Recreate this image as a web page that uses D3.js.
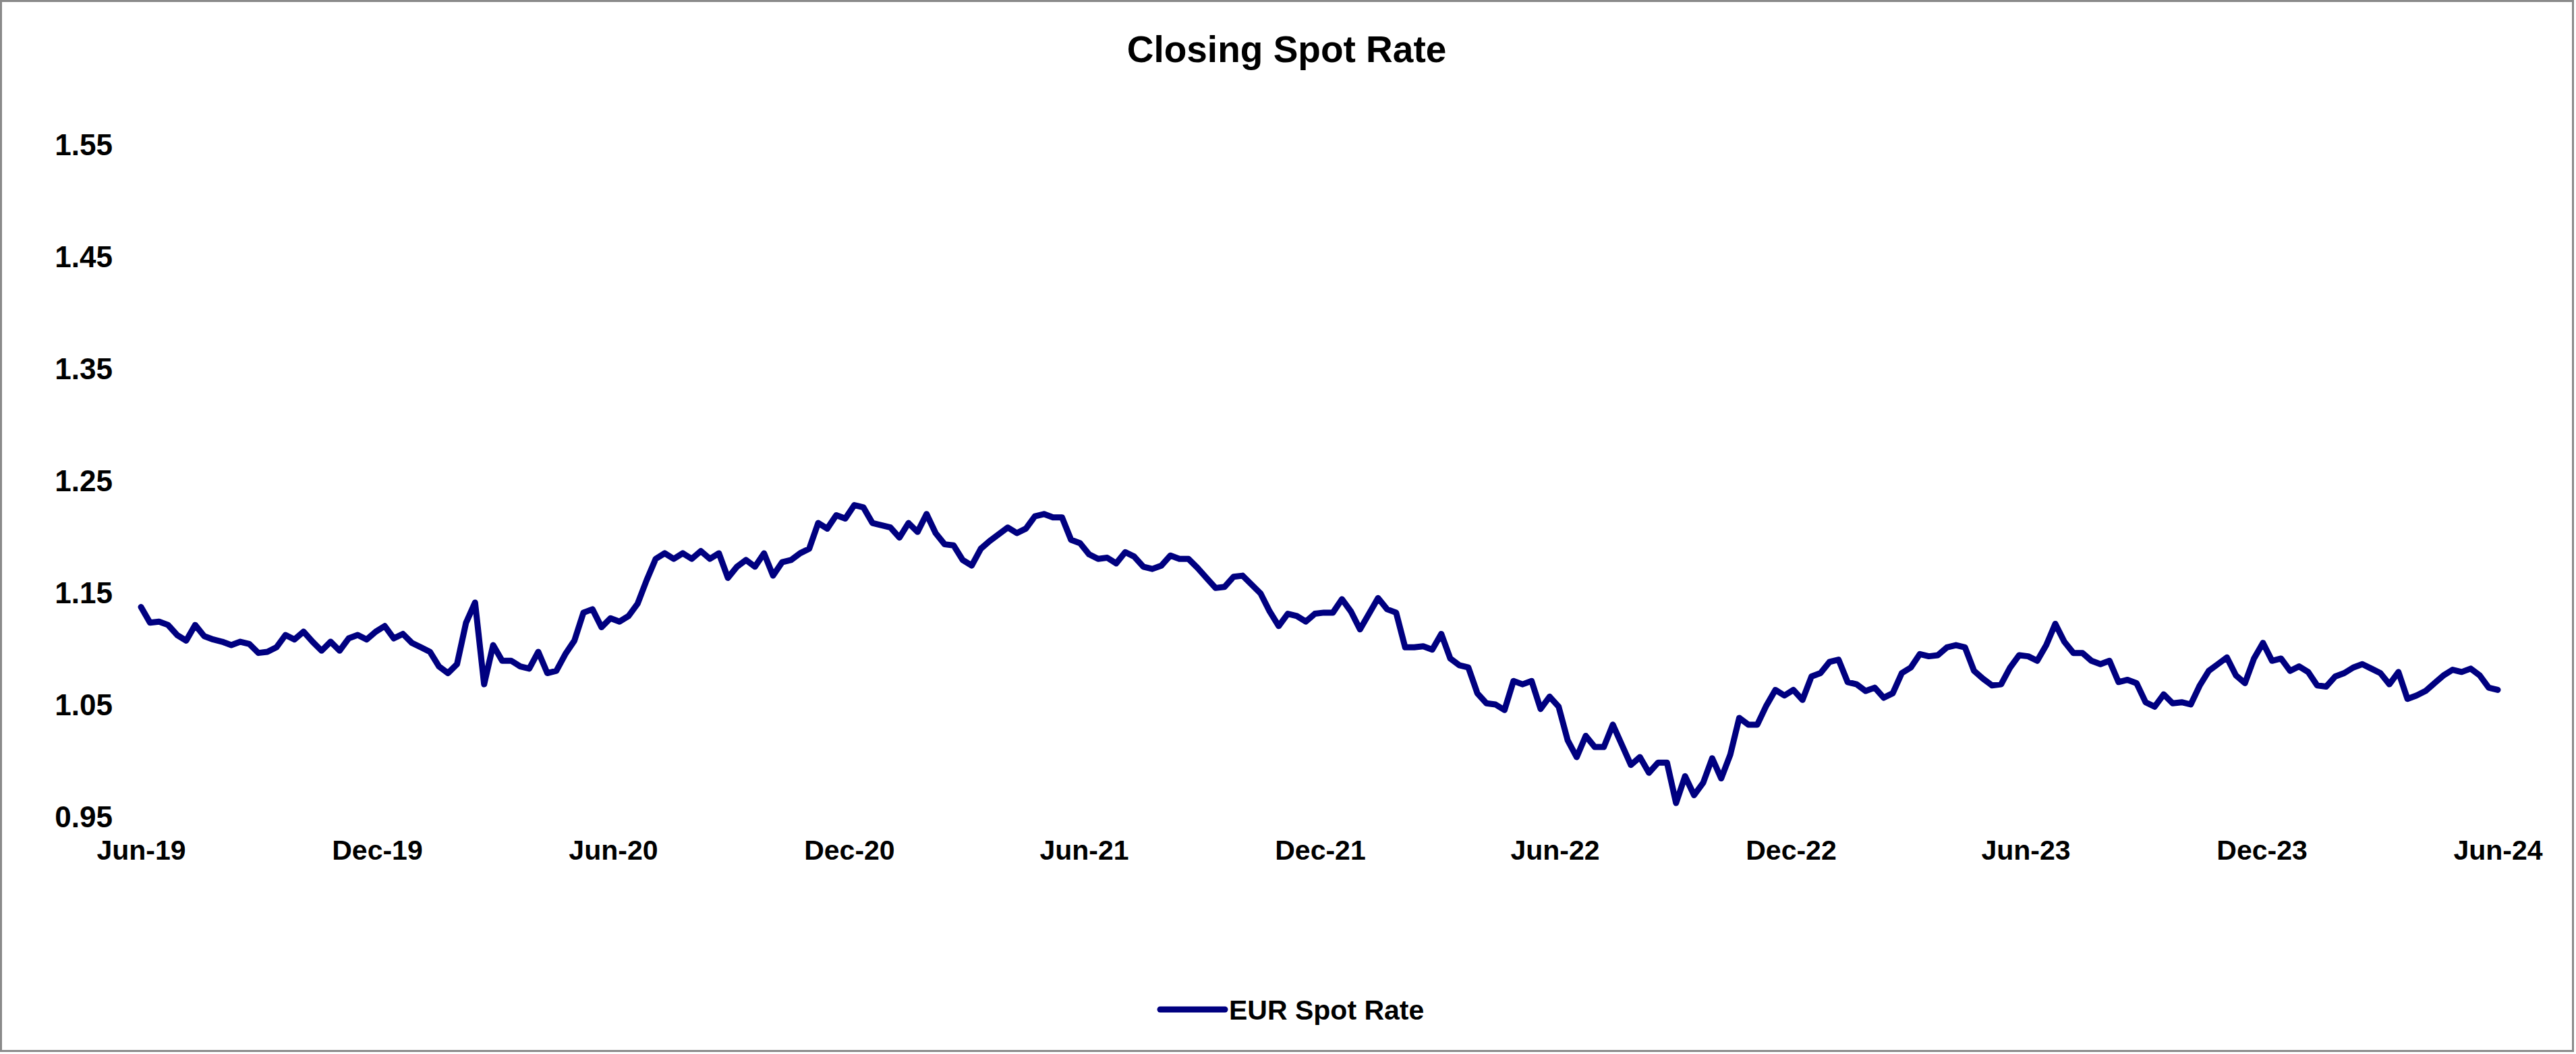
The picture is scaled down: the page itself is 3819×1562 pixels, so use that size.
<!DOCTYPE html>
<html>
<head>
<meta charset="utf-8">
<title>Closing Spot Rate</title>
<script src="https://cdn.jsdelivr.net/npm/d3@7/dist/d3.min.js"></script>
<style>
  html, body { margin: 0; padding: 0; background: #fff; }
  svg { display: block; }
  text { font-family: "Liberation Sans", Arial, sans-serif; font-weight: bold; fill: #000; }
</style>
</head>
<body>
<svg id="chart"></svg>
<script>
// Weekly closing EUR spot rate, first reading at startDate, one value per week
const startDate = new Date(2019, 5, 1);
const spotRates = [
  1.137, 1.123, 1.124, 1.121, 1.112, 1.107, 1.121, 1.111, 1.108, 1.106,
  1.103, 1.106, 1.104, 1.096, 1.097, 1.101, 1.112, 1.108, 1.115, 1.106,
  1.098, 1.106, 1.098, 1.109, 1.112, 1.108, 1.115, 1.120, 1.109, 1.113,
  1.105, 1.101, 1.097, 1.084, 1.078, 1.086, 1.123, 1.141, 1.068, 1.103,
  1.089, 1.089, 1.084, 1.082, 1.097, 1.078, 1.080, 1.095, 1.107, 1.132,
  1.135, 1.119, 1.127, 1.124, 1.129, 1.140, 1.161, 1.180, 1.185, 1.180,
  1.185, 1.180, 1.187, 1.180, 1.185, 1.163, 1.173, 1.179, 1.173, 1.185,
  1.165, 1.177, 1.179, 1.185, 1.189, 1.212, 1.207, 1.219, 1.216, 1.228,
  1.226, 1.212, 1.210, 1.208, 1.199, 1.212, 1.204, 1.220, 1.203, 1.193,
  1.192, 1.179, 1.174, 1.189, 1.196, 1.202, 1.208, 1.203, 1.207, 1.218,
  1.220, 1.217, 1.217, 1.197, 1.194, 1.184, 1.180, 1.181, 1.176, 1.186,
  1.182, 1.173, 1.171, 1.174, 1.183, 1.180, 1.180, 1.172, 1.163, 1.154,
  1.155, 1.164, 1.165, 1.157, 1.149, 1.133, 1.120, 1.131, 1.129, 1.124,
  1.131, 1.132, 1.132, 1.144, 1.133, 1.117, 1.131, 1.145, 1.135, 1.132,
  1.101, 1.101, 1.102, 1.099, 1.113, 1.091, 1.085, 1.083, 1.060, 1.051,
  1.050, 1.045, 1.071, 1.068, 1.071, 1.046, 1.057, 1.048, 1.018, 1.003,
  1.022, 1.012, 1.012, 1.032, 1.014, 0.996, 1.003, 0.989, 0.998, 0.998,
  0.962, 0.986, 0.969, 0.980, 1.002, 0.984, 1.005, 1.038, 1.032, 1.032,
  1.049, 1.063, 1.058, 1.063, 1.054, 1.075, 1.078, 1.088, 1.090, 1.070,
  1.068, 1.062, 1.065, 1.056, 1.060, 1.078, 1.083, 1.095, 1.093, 1.094,
  1.101, 1.103, 1.101, 1.080, 1.073, 1.067, 1.068, 1.083, 1.094, 1.093,
  1.089, 1.103, 1.122, 1.106, 1.096, 1.096, 1.089, 1.086, 1.089, 1.070,
  1.072, 1.069, 1.052, 1.048, 1.059, 1.051, 1.052, 1.050, 1.067, 1.080,
  1.086, 1.092, 1.076, 1.069, 1.091, 1.105, 1.089, 1.091, 1.080, 1.084,
  1.079, 1.067, 1.066, 1.075, 1.078, 1.083, 1.086, 1.082, 1.078, 1.068,
  1.079, 1.055, 1.058, 1.062, 1.069, 1.076, 1.081, 1.079, 1.082, 1.076,
  1.065, 1.063
];

// Axis ticks
const yTicks = [0.95, 1.05, 1.15, 1.25, 1.35, 1.45, 1.55];
const xTickDates = [
  new Date(2019, 5, 1), new Date(2019, 11, 1), new Date(2020, 5, 1), new Date(2020, 11, 1),
  new Date(2021, 5, 1), new Date(2021, 11, 1), new Date(2022, 5, 1), new Date(2022, 11, 1),
  new Date(2023, 5, 1), new Date(2023, 11, 1), new Date(2024, 5, 1)
];
const chartTitle = 'Closing Spot Rate';
const seriesName = 'EUR Spot Rate';

const WIDTH = 3819;
const HEIGHT = 1562;
const LINE_COLOR = '#000080';

const data = spotRates.map((v, i) => ({ date: d3.timeDay.offset(startDate, 7 * i), value: v }));

const svg = d3.select('#chart')
  .attr('width', WIDTH)
  .attr('height', HEIGHT);

// Outer frame
svg.append('rect')
  .attr('x', 1.5)
  .attr('y', 1.5)
  .attr('width', WIDTH - 6)
  .attr('height', HEIGHT - 6)
  .attr('fill', '#fff')
  .attr('stroke', '#8a8a8a')
  .attr('stroke-width', 3);

const x = d3.scaleTime()
  .domain([xTickDates[0], xTickDates[xTickDates.length - 1]])
  .range([209, 3703]);

const y = d3.scaleLinear()
  .domain([0.95, 1.55])
  .range([1210, 214]);

// Title
svg.append('text')
  .attr('x', WIDTH / 2 - 2)
  .attr('y', 92)
  .attr('text-anchor', 'middle')
  .attr('font-size', '55px')
  .text(chartTitle);

// Y axis (labels only)
const yAxis = svg.append('g')
  .attr('transform', 'translate(208,0)')
  .call(d3.axisLeft(y).tickValues(yTicks).tickSize(0).tickPadding(41).tickFormat(d3.format('.2f')));
yAxis.select('.domain').remove();
yAxis.selectAll('text')
  .attr('font-size', '44px')
  .attr('font-family', '"Liberation Sans", Arial, sans-serif')
  .attr('font-weight', 'bold')
  .attr('fill', '#000')
  .attr('dy', '0.36em');

// X axis (labels only)
const xAxis = svg.append('g')
  .attr('transform', 'translate(0,1210)')
  .call(d3.axisBottom(x).tickValues(xTickDates).tickSize(0).tickPadding(35).tickFormat(d3.timeFormat('%b-%y')));
xAxis.select('.domain').remove();
xAxis.selectAll('text')
  .attr('font-size', '41px')
  .attr('font-family', '"Liberation Sans", Arial, sans-serif')
  .attr('font-weight', 'bold')
  .attr('fill', '#000');

// Series line
const line = d3.line()
  .x(d => x(d.date))
  .y(d => y(d.value));

svg.append('path')
  .datum(data)
  .attr('d', line)
  .attr('fill', 'none')
  .attr('stroke', LINE_COLOR)
  .attr('stroke-width', 9)
  .attr('stroke-linejoin', 'round')
  .attr('stroke-linecap', 'round');

// Legend
const legend = svg.append('g').attr('transform', 'translate(1720,1496)');
legend.append('line')
  .attr('x1', 0)
  .attr('x2', 96)
  .attr('stroke', LINE_COLOR)
  .attr('stroke-width', 9)
  .attr('stroke-linecap', 'round');
legend.append('text')
  .attr('x', 102)
  .attr('y', 15)
  .attr('font-size', '41px')
  .text(seriesName);
</script>
</body>
</html>
